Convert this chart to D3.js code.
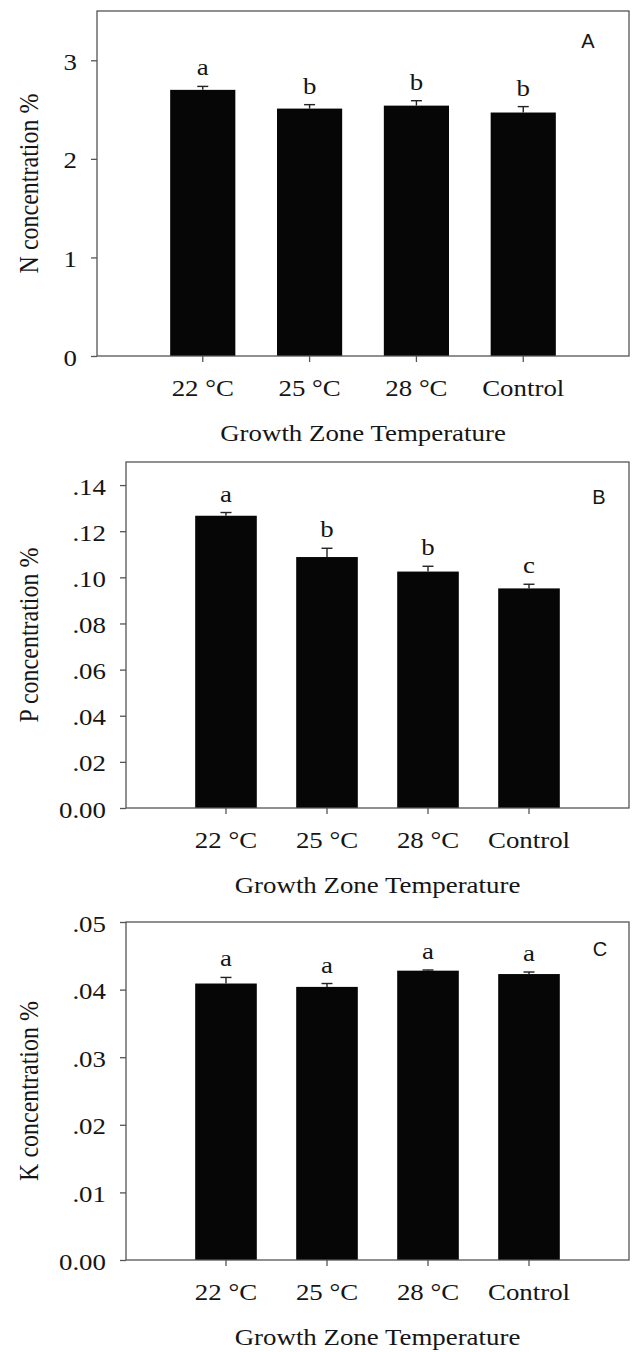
<!DOCTYPE html>
<html>
<head>
<meta charset="utf-8">
<script src="https://cdn.jsdelivr.net/npm/d3@7"></script>
<style>
  body { margin: 0; background: #fff; }
  svg { display: block; }
</style>
</head>
<body>
<svg id="chart"></svg>
<script>
// categories shared by the three panels
const categories = ["22 °C", "25 °C", "28 °C", "Control"]

// panel A - nitrogen
const nMeans = [2.70, 2.51, 2.54, 2.47]
const nErrors = [0.035, 0.04, 0.05, 0.06]
const nLetters = ["a", "b", "b", "b"]
const nTicks = [0, 1, 2, 3]

// panel B - phosphorus
const pMeans = [0.1267, 0.1088, 0.1025, 0.0952]
const pErrors = [0.0014, 0.0038, 0.0023, 0.0018]
const pLetters = ["a", "b", "b", "c"]
const pTicks = [0, 0.02, 0.04, 0.06, 0.08, 0.10, 0.12, 0.14]

// panel C - potassium
const kMeans = [0.0409, 0.0404, 0.0428, 0.0423]
const kErrors = [0.0009, 0.0005, 0.0001, 0.0003]
const kLetters = ["a", "a", "a", "a"]
const kTicks = [0, 0.01, 0.02, 0.03, 0.04, 0.05]

const xTitle = "Growth Zone Temperature"

const config = {
    width: 632,
    height: 1352,
    stretch: 1.12, // the source figure is a bit wider than tall
    serif: "'Liberation Serif', 'Times New Roman', serif",
    sans: "'Liberation Sans', Arial, sans-serif",
    colors: { bar: "#060606", axis: "#555", text: "#151515" }
}

const fmtDecimal = d => d === 0 ? "0.00" : d3.format(".2f")(d).replace(/^0/, "")

const panels = [
    { means: nMeans, errors: nErrors, letters: nLetters, ticks: nTicks, max: 3.5, fmt: d3.format("d"),
      yTitle: "N concentration %", tag: "A", box: { l: 97, t: 11, r: 629, b: 356 }, tagAt: [588, 48] },
    { means: pMeans, errors: pErrors, letters: pLetters, ticks: pTicks, max: 0.15, fmt: fmtDecimal,
      yTitle: "P concentration %", tag: "B", box: { l: 126, t: 462, r: 629, b: 808 }, tagAt: [599, 504] },
    { means: kMeans, errors: kErrors, letters: kLetters, ticks: kTicks, max: 0.05, fmt: fmtDecimal,
      yTitle: "K concentration %", tag: "C", box: { l: 126, t: 922, r: 629, b: 1260 }, tagAt: [600, 956] }
]

const svg = d3.select("svg#chart")
    .attr("width", config.width)
    .attr("height", config.height)
    .style("background", "#fff")

const drawPanel = function (p) {
    const g = svg.append("g")
    const x = d3.scaleBand().domain(categories)
        .range([p.box.l, p.box.r])
        .paddingInner(0.39)
        .paddingOuter(0.685)
    const y = d3.scaleLinear().domain([0, p.max]).range([p.box.b, p.box.t])
    const cx = d => x(d) + x.bandwidth() / 2

    // bars
    g.selectAll("rect.bar").data(categories).join("rect")
        .attr("class", "bar")
        .attr("x", d => x(d))
        .attr("width", x.bandwidth())
        .attr("y", (d, i) => y(p.means[i]))
        .attr("height", (d, i) => y(0) - y(p.means[i]))
        .style("fill", config.colors.bar)

    // upper error bars
    const err = g.selectAll("g.err").data(categories).join("g").attr("class", "err")
    err.append("line")
        .attr("x1", cx).attr("x2", cx)
        .attr("y1", (d, i) => y(p.means[i])).attr("y2", (d, i) => y(p.means[i] + p.errors[i]))
    err.append("line")
        .attr("x1", d => cx(d) - 5.5).attr("x2", d => cx(d) + 5.5)
        .attr("y1", (d, i) => y(p.means[i] + p.errors[i])).attr("y2", (d, i) => y(p.means[i] + p.errors[i]))
    err.selectAll("line").style("stroke", "#222").style("stroke-width", 1.4)

    // significance letters
    g.selectAll("text.letter").data(categories).join("text")
        .attr("class", "letter")
        .text((d, i) => p.letters[i])
        .attr("transform", (d, i) => `translate(${cx(d)},${y(p.means[i] + p.errors[i]) - 11}) scale(${config.stretch},1)`)
        .attr("text-anchor", "middle")
        .style("font-family", config.serif)
        .style("font-size", "24px")
        .style("fill", config.colors.text)

    // y axis
    const yAxis = g.append("g")
        .attr("transform", `translate(${p.box.l},0)`)
        .call(d3.axisLeft(y).tickValues(p.ticks).tickFormat(p.fmt).tickSize(6).tickSizeOuter(0))
    yAxis.select(".domain").remove()
    yAxis.selectAll("line").style("stroke", config.colors.axis).style("stroke-width", 1.3)
    yAxis.selectAll("text")
        .attr("x", null).attr("dy", null)
        .attr("transform", `translate(-20,9) scale(${config.stretch},1)`)
        .style("font-family", config.serif)
        .style("font-size", "24px")
        .style("fill", config.colors.text)

    // x axis
    const xAxis = g.append("g")
        .attr("transform", `translate(0,${p.box.b})`)
        .call(d3.axisBottom(x).tickSize(6).tickSizeOuter(0))
    xAxis.select(".domain").remove()
    xAxis.selectAll("line").style("stroke", config.colors.axis).style("stroke-width", 1.3)
    xAxis.selectAll("text")
        .attr("y", null).attr("dy", null)
        .attr("transform", `translate(0,40) scale(${config.stretch},1)`)
        .style("font-family", config.serif)
        .style("font-size", "24px")
        .style("fill", config.colors.text)

    // frame
    g.append("rect")
        .attr("x", p.box.l).attr("y", p.box.t)
        .attr("width", p.box.r - p.box.l).attr("height", p.box.b - p.box.t)
        .style("fill", "none")
        .style("stroke", config.colors.axis)
        .style("stroke-width", 1.3)

    // axis titles
    g.append("text")
        .text(xTitle)
        .attr("transform", `translate(${(p.box.l + p.box.r) / 2},${p.box.b + 85}) scale(${config.stretch},1)`)
        .attr("text-anchor", "middle")
        .style("font-family", config.serif)
        .style("font-size", "24px")
        .style("fill", config.colors.text)

    g.append("text")
        .text(p.yTitle)
        .attr("transform", `translate(38,${(p.box.t + p.box.b) / 2}) scale(${config.stretch},1) rotate(-90)`)
        .attr("text-anchor", "middle")
        .style("font-family", config.serif)
        .style("font-size", "24px")
        .style("fill", config.colors.text)

    // panel tag
    g.append("text")
        .text(p.tag)
        .attr("x", p.tagAt[0]).attr("y", p.tagAt[1])
        .attr("text-anchor", "middle")
        .style("font-family", config.sans)
        .style("font-size", "20px")
        .style("fill", config.colors.text)
}

panels.forEach(drawPanel)
</script>
</body>
</html>
